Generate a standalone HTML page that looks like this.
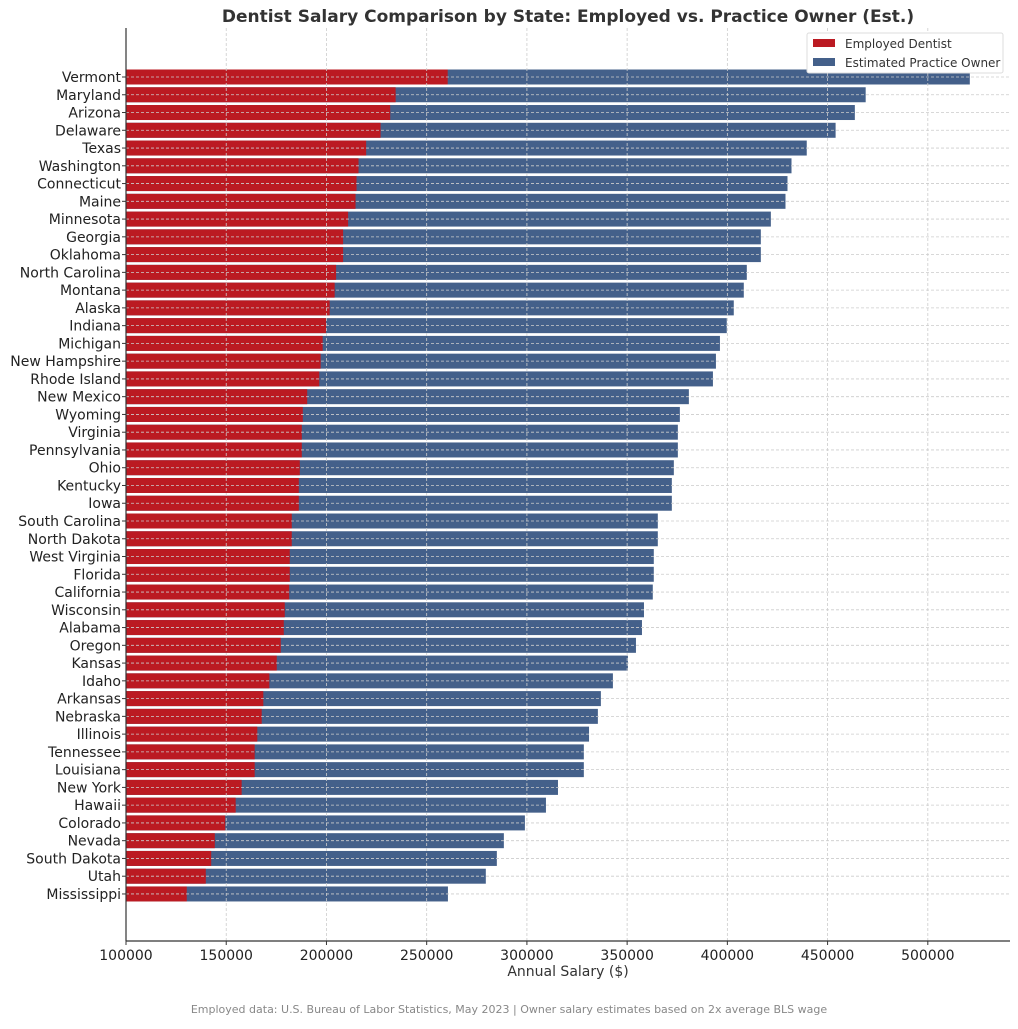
<!DOCTYPE html>
<html><head><meta charset="utf-8"><style>
body{margin:0;background:#fff}
svg text{font-family:"DejaVu Sans","Liberation Sans",sans-serif}
</style></head><body>
<svg id="chart" width="1018" height="1024" xmlns="http://www.w3.org/2000/svg">
<text x="568" y="22" text-anchor="middle" font-size="17" font-weight="bold" fill="#333">Dentist Salary Comparison by State: Employed vs. Practice Owner (Est.)</text>
<g id="bars"></g><g id="grid"></g><g id="axes"></g>
<text x="568" y="976" text-anchor="middle" font-size="14" fill="#333">Annual Salary ($)</text>
<text x="509" y="1013" text-anchor="middle" font-size="11" fill="#888">Employed data: U.S. Bureau of Labor Statistics, May 2023 | Owner salary estimates based on 2x average BLS wage</text>
<g>
<rect x="807" y="33" width="196" height="40" fill="#fff" stroke="#ddd" rx="2"/>
<rect x="813" y="39" width="22" height="8" fill="#bb1a22"/>
<text x="845" y="48" font-size="12" fill="#333">Employed Dentist</text>
<rect x="813" y="58" width="22" height="8" fill="#44608a"/>
<text x="845" y="67" font-size="12" fill="#333">Estimated Practice Owner</text>
</g>
</svg>
<script>
const states=["Vermont","Maryland","Arizona","Delaware","Texas","Washington","Connecticut","Maine","Minnesota","Georgia","Oklahoma","North Carolina","Montana","Alaska","Indiana","Michigan","New Hampshire","Rhode Island","New Mexico","Wyoming","Virginia","Pennsylvania","Ohio","Kentucky","Iowa","South Carolina","North Dakota","West Virginia","Florida","California","Wisconsin","Alabama","Oregon","Kansas","Idaho","Arkansas","Nebraska","Illinois","Tennessee","Louisiana","New York","Hawaii","Colorado","Nevada","South Dakota","Utah","Mississippi"];
const employed=[260480,234500,231800,227000,219800,216000,215000,214500,210800,208300,208300,204800,204100,201600,199800,198100,197100,196400,190400,188200,187700,187700,186700,186200,186200,182700,182700,181700,181700,181400,179200,178700,177200,175200,171500,168500,167700,165500,164200,164200,157700,154700,149500,144300,142500,139800,130300];
const owner=[520950,469000,463600,454000,439600,432000,430000,429000,421700,416700,416700,409700,408200,403200,399700,396300,394300,392800,380800,376300,375300,375300,373300,372300,372300,365300,365300,363300,363300,362800,358400,357400,354400,350400,342900,336900,335400,331000,328400,328400,315500,309500,299000,288500,285000,279500,260600];
const xTicks=[100000,150000,200000,250000,300000,350000,400000,450000,500000];
const NS="http://www.w3.org/2000/svg";
const L=126,R=1010,T=28,B=941,xmin=100000,xmax=541000;
const x=v=>L+(v-xmin)*(R-L)/(xmax-xmin);
const step=17.76,y0=77;
const y=i=>y0+i*step;
const bh=15;
function mk(p,tag,a){const e=document.createElementNS(NS,tag);for(const k in a)e.setAttribute(k,a[k]);p.appendChild(e);return e;}
const gb=document.getElementById('bars'),gg=document.getElementById('grid'),ga=document.getElementById('axes');
states.forEach((s,i)=>{
 const b1=mk(gb,'rect',{x:x(xmin),y:y(i)-bh/2,width:x(owner[i])-x(xmin),height:bh,fill:'#44608a'});
 
 
 const b2=mk(gb,'rect',{x:x(xmin),y:y(i)-bh/2,width:x(employed[i])-x(xmin),height:bh,fill:'#bb1a22'});
 
 
 mk(gg,'line',{x1:L,x2:R,y1:y(i),y2:y(i),stroke:'#ccc','stroke-width':0.8,'stroke-dasharray':'3,2'});
 mk(ga,'line',{x1:L-4,x2:L,y1:y(i),y2:y(i),stroke:'#333'});
 const t=mk(ga,'text',{x:L-5,y:y(i)+5,'text-anchor':'end','font-size':14,fill:'#222'});
 t.textContent=s;
 
 
});
xTicks.forEach(v=>{
 mk(gg,'line',{x1:x(v),x2:x(v),y1:T,y2:B,stroke:'#ccc','stroke-width':0.8,'stroke-dasharray':'3,2'});
 mk(ga,'line',{x1:x(v),x2:x(v),y1:B,y2:B+4,stroke:'#333'});
 const t=mk(ga,'text',{x:x(v),y:B+19,'text-anchor':'middle','font-size':14,fill:'#222'});
 t.textContent=v;
 
 
});
mk(ga,'line',{x1:L,x2:L,y1:T,y2:B,stroke:'#333','stroke-width':1.2});
mk(ga,'line',{x1:L,x2:R,y1:B,y2:B,stroke:'#333','stroke-width':1.2});
</script>
</body></html>
